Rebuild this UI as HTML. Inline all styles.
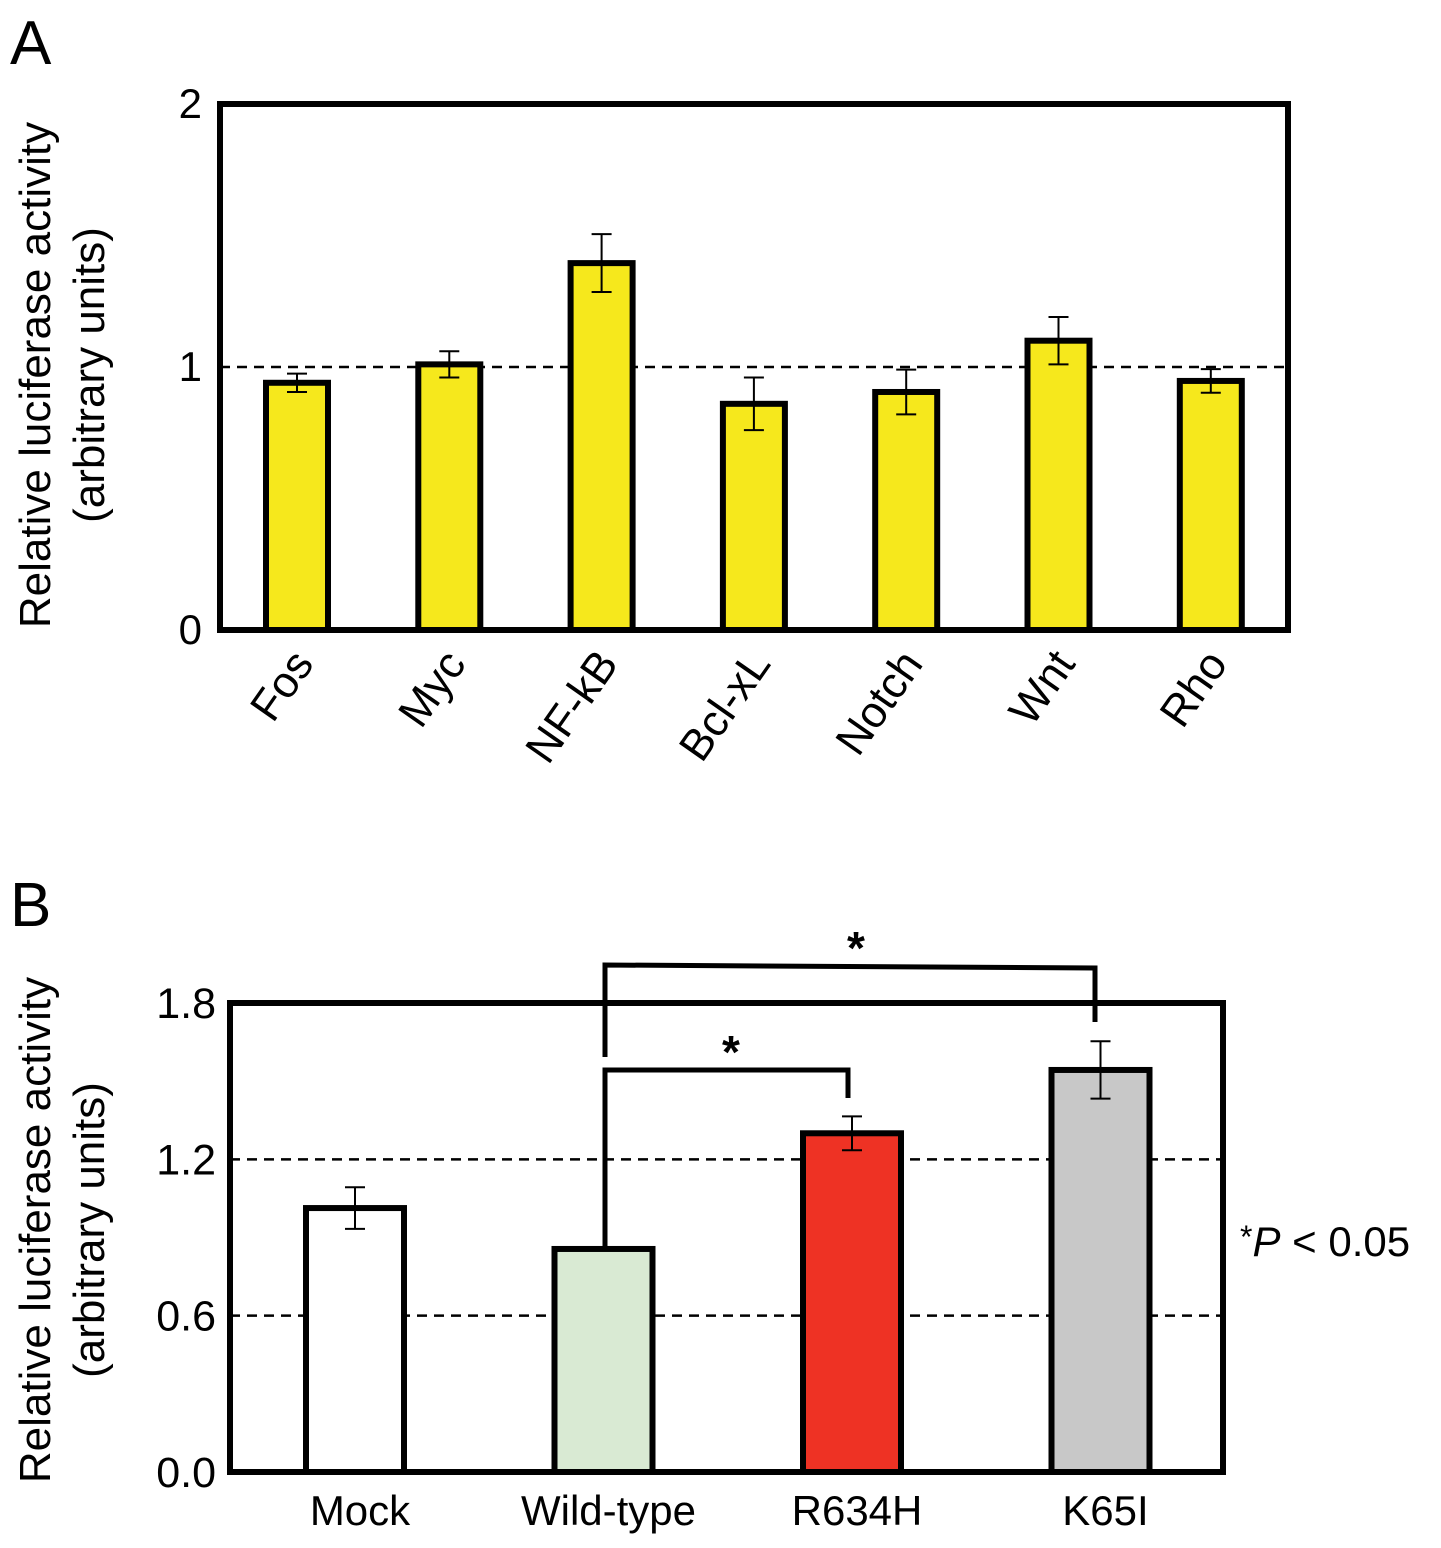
<!DOCTYPE html>
<html><head><meta charset="utf-8"><style>
body{margin:0;background:#fff}
svg{display:block;font-family:"Liberation Sans",Arial,sans-serif}
</style></head><body>
<svg id="fig" width="1441" height="1548" viewBox="0 0 1441 1548">
<text x="10" y="64" font-size="62">A</text>
<text x="10" y="926" font-size="62">B</text>
<g id="A"></g>
<g id="B"></g>
</svg>
<script>
const aCats=["Fos","Myc","NF-kB","Bcl-xL","Notch","Wnt","Rho"];
const aVals=[0.94,1.01,1.395,0.86,0.905,1.10,0.947];
const aErrs=[0.035,0.05,0.11,0.10,0.085,0.09,0.045];
const aTicks=[0,1,2];
const bCats=["Mock","Wild-type","R634H","K65I"];
const bVals=[1.013,0.856,1.30,1.543];
const bErrs=[0.08,0.005,0.065,0.11];
const bColors=["#ffffff","#d9ead3","#ee3224","#c8c8c8"];
const bTicks=["0.0","0.6","1.2","1.8"];
const NS="http://www.w3.org/2000/svg";
function mk(p,t,a,txt){const e=document.createElementNS(NS,t);for(const k in a)e.setAttribute(k,a[k]);if(txt!==undefined)e.textContent=txt;p.appendChild(e);return e;}
// Panel A
const A=document.getElementById('A');
const aL=220,aR=1288,aT=104,aB=630,aMax=2;
const ay=v=>aB-(v/aMax)*(aB-aT);
const ax=i=>297+i*152.3;
let e=mk(A,'line',{x1:aL,x2:aR,y1:ay(1),y2:ay(1),stroke:'#000','stroke-width':2.5,'stroke-dasharray':'10,7'});


aVals.forEach((v,i)=>{
 const b=mk(A,'rect',{x:ax(i)-31,y:ay(v),width:62,height:aB-ay(v),fill:'#f6e81c',stroke:'#000','stroke-width':6});
 
 
 const g=mk(A,'path',{d:`M${ax(i)},${ay(v-aErrs[i])}V${ay(v+aErrs[i])}M${ax(i)-10},${ay(v-aErrs[i])}h20M${ax(i)-10},${ay(v+aErrs[i])}h20`,stroke:'#000','stroke-width':2,fill:'none'});
 
 
 const t=mk(A,'text',{x:ax(i)+18,y:664,'font-size':44,'text-anchor':'end',transform:`rotate(-55 ${ax(i)+18} 664)`},aCats[i]);
 
 
});
e=mk(A,'rect',{x:aL,y:aT,width:aR-aL,height:aB-aT,fill:'none',stroke:'#000','stroke-width':6});


aTicks.forEach(t=>{const x=mk(A,'text',{x:202,y:ay(t)+14,'font-size':42,'text-anchor':'end'},String(t));
 
 });
e=mk(A,'text',{x:0,y:0,'font-size':44,'text-anchor':'middle',transform:'translate(50,375) rotate(-90)'},'Relative luciferase activity');


e=mk(A,'text',{x:0,y:0,'font-size':44,'text-anchor':'middle',transform:'translate(104,375) rotate(-90)'},'(arbitrary units)');


// Panel B
const B=document.getElementById('B');
const bL=230,bR=1223,bT=1003,bB=1472,bMax=1.8;
const by=v=>bB-(v/bMax)*(bB-bT);
const bx=i=>355+i*248.5;
[0.6,1.2].forEach(v=>{const l=mk(B,'line',{x1:bL,x2:bR,y1:by(v),y2:by(v),stroke:'#000','stroke-width':2.5,'stroke-dasharray':'10,7'});
 
 });
e=mk(B,'path',{d:`M605,${by(bVals[1])}V1070H848V1098`,stroke:'#000','stroke-width':5,fill:'none'});


e=mk(B,'path',{d:'M605,1057V965L1095,968V1022',stroke:'#000','stroke-width':5,fill:'none'});


bVals.forEach((v,i)=>{
 const b=mk(B,'rect',{x:bx(i)-49,y:by(v),width:98,height:bB-by(v),fill:bColors[i],stroke:'#000','stroke-width':6});
 
 
 const g=mk(B,'path',{d:`M${bx(i)},${by(v-bErrs[i])}V${by(v+bErrs[i])}M${bx(i)-10},${by(v-bErrs[i])}h20M${bx(i)-10},${by(v+bErrs[i])}h20`,stroke:'#000','stroke-width':2,fill:'none'});
 
 
 const t=mk(B,'text',{x:bx(i)+5,y:1525,'font-size':42,'text-anchor':'middle'},bCats[i]);
 
 
});
e=mk(B,'rect',{x:bL,y:bT,width:bR-bL,height:bB-bT,fill:'none',stroke:'#000','stroke-width':6});


bTicks.forEach(t=>{const x=mk(B,'text',{x:216,y:by(+t)+15,'font-size':43,'text-anchor':'end'},t);
 
 });
e=mk(B,'text',{x:731,y:1068,'font-size':46,'text-anchor':'middle','font-weight':'bold'},'*');


e=mk(B,'text',{x:856,y:964,'font-size':46,'text-anchor':'middle','font-weight':'bold'},'*');


e=mk(B,'text',{x:1240,y:1256,'font-size':42},'');
e.innerHTML='<tspan font-size="32" dy="-8">*</tspan><tspan font-style="italic" dy="8">P</tspan><tspan> &lt; 0.05</tspan>';


e=mk(B,'text',{x:0,y:0,'font-size':44,'text-anchor':'middle',transform:'translate(50,1230) rotate(-90)'},'Relative luciferase activity');


e=mk(B,'text',{x:0,y:0,'font-size':44,'text-anchor':'middle',transform:'translate(104,1230) rotate(-90)'},'(arbitrary units)');


</script>
</body></html>
